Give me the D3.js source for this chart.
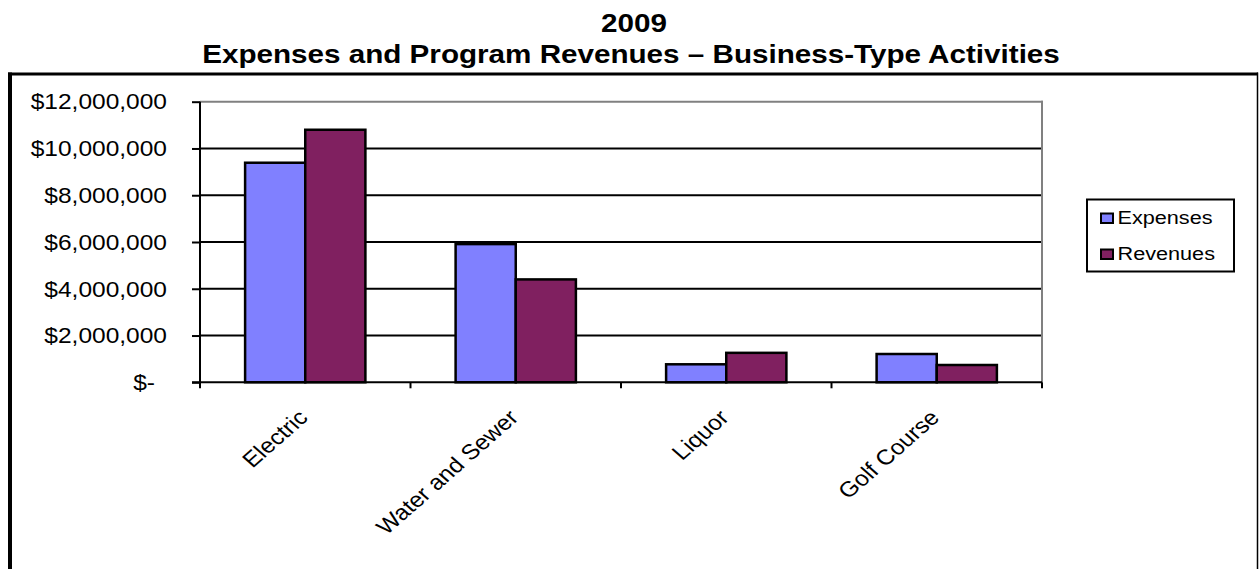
<!DOCTYPE html>
<html>
<head>
<meta charset="utf-8">
<script src="https://cdn.jsdelivr.net/npm/d3@7"></script>
<style>
  html, body { margin: 0; padding: 0; background: #fff; }
  svg { display: block; font-family: Arial, "Liberation Sans", sans-serif; }
</style>
</head>
<body>
<svg id="chart" width="1259" height="569"></svg>
<script>
const categories = ["Electric", "Water and Sewer", "Liquor", "Golf Course"];
const seriesNames = ["Expenses", "Revenues"];
const expenses = [9390000, 5910000, 770000, 1210000];
const revenues = [10800000, 4400000, 1260000, 740000];
const yTicks = [0, 2000000, 4000000, 6000000, 8000000, 10000000, 12000000];
const titleLines = ["2009", "Expenses and Program Revenues \u2013 Business-Type Activities"];
const colors = ["#8080FF", "#802060"];

const SX = 1.14; // horizontal stretch of the reference image text
const svg = d3.select("#chart");
const W = 1259, H = 569;
const plot = { left: 200, right: 1042, top: 101.7, bottom: 382.3 };

// outer chart border
svg.append("line").attr("x1", 8).attr("x2", 1258).attr("y1", 74).attr("y2", 74)
  .attr("stroke", "#000").attr("stroke-width", 3);
svg.append("line").attr("x1", 10).attr("x2", 10).attr("y1", 72.5).attr("y2", H + 2)
  .attr("stroke", "#000").attr("stroke-width", 4);
svg.append("line").attr("x1", 1257.5).attr("x2", 1257.5).attr("y1", 72.5).attr("y2", H + 2)
  .attr("stroke", "#000").attr("stroke-width", 1.5);

// title
titleLines.forEach((t, i) => {
  svg.append("text")
    .attr("transform", `translate(${i === 0 ? 634 : 631},${i === 0 ? 31.7 : 63.3}) scale(${SX},1)`)
    .attr("text-anchor", "middle")
    .attr("font-weight", "bold")
    .attr("font-size", 26)
    .attr("fill", "#000")
    .text(t);
});

const x = d3.scaleBand().domain(categories).range([plot.left, plot.right]).padding(0);
const xs = d3.scaleBand().domain(seriesNames).range([0, x.bandwidth()]).paddingInner(0).paddingOuter(0.75);
const y = d3.scaleLinear().domain([0, 12000000]).range([plot.bottom, plot.top]);

// gridlines
const gridVals = yTicks.filter(v => v > 0 && v < 12000000);
svg.append("g").selectAll("line").data(gridVals).join("line")
  .attr("x1", plot.left).attr("x2", plot.right)
  .attr("y1", d => y(d)).attr("y2", d => y(d))
  .attr("stroke", "#000").attr("stroke-width", 2);

// plot area border (gray top & right)
svg.append("line").attr("x1", plot.left).attr("x2", plot.right + 1)
  .attr("y1", y(12000000)).attr("y2", y(12000000))
  .attr("stroke", "#808080").attr("stroke-width", 2);
svg.append("line").attr("x1", plot.right).attr("x2", plot.right)
  .attr("y1", plot.top - 1).attr("y2", plot.bottom)
  .attr("stroke", "#808080").attr("stroke-width", 2);

// bars
const data = categories.map((c, i) => ({ cat: c, vals: [expenses[i], revenues[i]] }));
const groups = svg.append("g").selectAll("g").data(data).join("g")
  .attr("transform", d => `translate(${x(d.cat)},0)`);
groups.selectAll("rect").data(d => d.vals.map((v, j) => ({ s: seriesNames[j], v, j }))).join("rect")
  .attr("x", d => xs(d.s))
  .attr("width", xs.bandwidth())
  .attr("y", d => y(d.v))
  .attr("height", d => y(0) - y(d.v))
  .attr("fill", d => colors[d.j])
  .attr("stroke", "#000")
  .attr("stroke-width", 2.5);

// y axis
const yAxisG = svg.append("g").attr("transform", `translate(${plot.left},0)`)
  .call(d3.axisLeft(y).tickValues(yTicks).tickSize(8).tickFormat(""));
yAxisG.selectAll("path, line").attr("stroke", "#000").attr("stroke-width", 2);
yAxisG.select("path.domain").attr("d", `M0,${plot.top}V${plot.bottom}`);

const fmt = v => v === 0 ? "$-" : "$" + d3.format(",")(v);
svg.append("g").selectAll("text").data(yTicks).join("text")
  .attr("transform", d => `translate(${d === 0 ? 155 : 167},${y(d)}) scale(${SX},1)`)
  .attr("dy", "0.36em")
  .attr("text-anchor", "end")
  .attr("font-size", 21.5)
  .attr("fill", "#000")
  .text(fmt);

// x axis
const xAxisG = svg.append("g").attr("transform", `translate(0,${plot.bottom})`)
  .call(d3.axisBottom(x).tickSize(0).tickFormat(""));
xAxisG.selectAll("path, line").attr("stroke", "#000").attr("stroke-width", 2);
xAxisG.select("path.domain").attr("d", `M${plot.left - 8},0H${plot.right}`);
const boundaries = categories.map(c => x(c)).concat([x(categories[categories.length - 1]) + x.bandwidth()]);
svg.append("g").selectAll("line").data(boundaries).join("line")
  .attr("x1", d => d).attr("x2", d => d)
  .attr("y1", plot.bottom).attr("y2", plot.bottom + 6)
  .attr("stroke", "#000").attr("stroke-width", 2);

svg.append("g").selectAll("text").data(categories).join("text")
  .attr("transform", d => `translate(${x(d) + x.bandwidth() / 2 + 4},419) scale(${SX},1) rotate(-45)`)
  .attr("text-anchor", "end")
  .attr("font-size", 21.5)
  .attr("fill", "#000")
  .text(d => d);

// legend
const lg = svg.append("g");
lg.append("rect").attr("x", 1087).attr("y", 199.5).attr("width", 147).attr("height", 72)
  .attr("fill", "#fff").attr("stroke", "#000").attr("stroke-width", 2);
seriesNames.forEach((s, i) => {
  const by = 224 + i * 36;
  lg.append("rect").attr("x", 1101).attr("y", by - 10.5).attr("width", 12).attr("height", 9.5)
    .attr("fill", colors[i]).attr("stroke", "#000").attr("stroke-width", 2);
  lg.append("text")
    .attr("transform", `translate(1117.5,${by}) scale(${SX},1)`)
    .attr("font-size", 19)
    .attr("fill", "#000")
    .text(s);
});
</script>
</body>
</html>
